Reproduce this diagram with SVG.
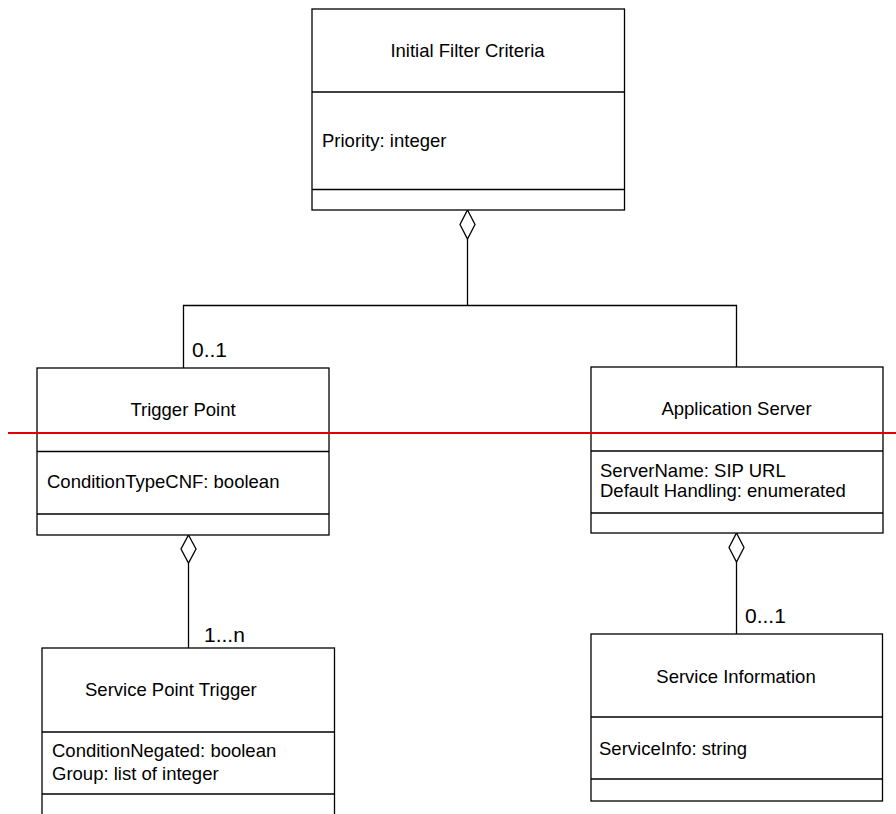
<svg xmlns="http://www.w3.org/2000/svg" width="896" height="814" viewBox="0 0 896 814">
<style>
.box{fill:#fff;stroke:#000;stroke-width:1.3}
.div{stroke:#000;stroke-width:1.3}
.t{font-family:"Liberation Sans",Arial,sans-serif;font-size:18.5px;fill:#000}
.m{font-family:"Liberation Sans",Arial,sans-serif;font-size:21px;fill:#000}
.c{text-anchor:middle}
.ln{fill:none;stroke:#000;stroke-width:1.3}
.dia{fill:#fff;stroke:#000;stroke-width:1.3}
</style>
<rect width="896" height="814" fill="#fff"/>
<g id="connectors">
<polyline class="ln" points="467.5,239 467.5,305.5"/>
<polyline class="ln" points="183.5,368 183.5,305.5 736.5,305.5 736.5,367"/>
<polygon class="dia" points="467.5,210 475,224.5 467.5,239 460,224.5"/>
<polyline class="ln" points="188.5,563 188.5,648"/>
<polygon class="dia" points="188.5,535 196,549 188.5,563 181,549"/>
<polyline class="ln" points="736.5,562 736.5,634"/>
<polygon class="dia" points="736.5,533 744,547.5 736.5,562 729,547.5"/>
<text class="m" x="192" y="357">0..1</text>
<text class="m" x="204" y="642">1...n</text>
<text class="m" x="745" y="623">0...1</text>
</g>
<g id="ifc">
<rect class="box" x="312" y="9" width="312.5" height="201"/>
<line class="div" x1="312" y1="92" x2="624.5" y2="92"/>
<line class="div" x1="312" y1="189.5" x2="624.5" y2="189.5"/>
<text class="t c" x="467.5" y="57">Initial Filter Criteria</text>
<text class="t" x="322" y="147">Priority: integer</text>
</g>
<g id="trigger-point">
<rect class="box" x="37" y="368" width="292" height="167"/>
<line class="div" x1="37" y1="451.5" x2="329" y2="451.5"/>
<line class="div" x1="37" y1="514" x2="329" y2="514"/>
<text class="t c" x="183" y="416">Trigger Point</text>
<text class="t" x="47" y="488">ConditionTypeCNF: boolean</text>
</g>
<g id="application-server">
<rect class="box" x="591" y="367" width="292" height="166"/>
<line class="div" x1="591" y1="451" x2="883" y2="451"/>
<line class="div" x1="591" y1="513" x2="883" y2="513"/>
<text class="t c" x="736.5" y="415">Application Server</text>
<text class="t" x="600" y="477">ServerName: SIP URL</text>
<text class="t" x="600" y="497">Default Handling: enumerated</text>
</g>
<g id="service-point-trigger">
<rect class="box" x="42" y="648" width="292.5" height="180"/>
<line class="div" x1="42" y1="732" x2="334.5" y2="732"/>
<line class="div" x1="42" y1="794" x2="334.5" y2="794"/>
<text class="t" x="85" y="696">Service Point Trigger</text>
<text class="t" x="52" y="757">ConditionNegated: boolean</text>
<text class="t" x="52" y="780">Group: list of integer</text>
</g>
<g id="service-information">
<rect class="box" x="591" y="634" width="291.5" height="167"/>
<line class="div" x1="591" y1="717" x2="882.5" y2="717"/>
<line class="div" x1="591" y1="779" x2="882.5" y2="779"/>
<text class="t c" x="736" y="683">Service Information</text>
<text class="t" x="599" y="755">ServiceInfo: string</text>
</g>
<line id="red-line" x1="8" y1="433" x2="896" y2="433" stroke="#e00000" stroke-width="2"/>
</svg>
